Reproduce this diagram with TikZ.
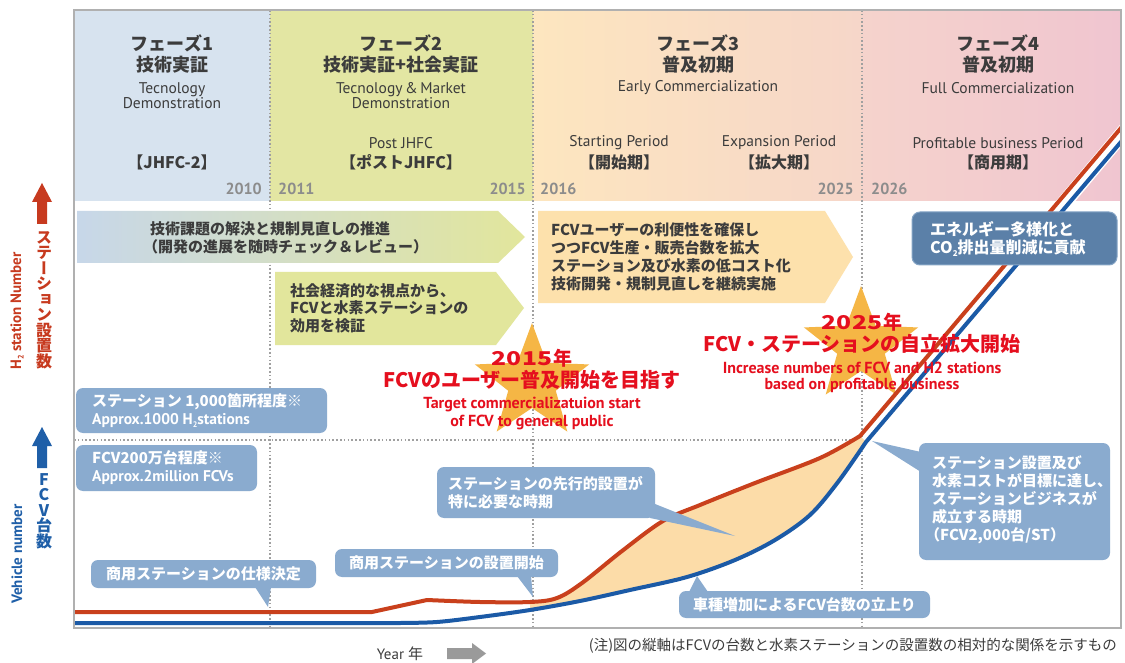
\documentclass[tikz,border=0pt]{standalone}
\usepackage{fontspec}
\setmainfont{PT Sans}
\newfontfamily\jp{Noto Sans CJK JP}
\newfontfamily\jpv{Noto Sans CJK JP}[RawFeature=+vert]
\usetikzlibrary{shapes.geometric}
\definecolor{phaseA}{HTML}{D7E3EF}
\definecolor{phaseB}{HTML}{E3E6A3}
\definecolor{phaseCa}{HTML}{FDE6BF}
\definecolor{phaseCb}{HTML}{F6D6C9}
\definecolor{phaseDa}{HTML}{F5D3CC}
\definecolor{phaseDb}{HTML}{F0C5D0}
\definecolor{arrA}{HTML}{C7D7E9}
\definecolor{arrB}{HTML}{E2E69C}
\definecolor{arrC}{HTML}{FDE1AC}
\definecolor{boxD}{HTML}{5B80A8}
\definecolor{boxDedge}{HTML}{86A5C6}
\definecolor{callout}{HTML}{8AABCF}
\definecolor{fillarea}{HTML}{FCDCA8}
\definecolor{redline}{HTML}{C9401C}
\definecolor{blueline}{HTML}{1B5AA6}
\definecolor{starcol}{HTML}{F5B645}
\definecolor{startxt}{HTML}{E50F1E}
\definecolor{hdrtxt}{HTML}{3C3C3C}
\definecolor{yeartxt}{HTML}{8C8C8C}
\definecolor{axred}{HTML}{C73A1F}
\definecolor{axblue}{HTML}{1F5FA8}
\definecolor{divgray}{HTML}{A0A0A0}
\definecolor{framegray}{HTML}{B0B0B0}
\definecolor{arrgray}{HTML}{9A9A9A}
\newcommand\fsz[2]{\fontsize{#1}{#2}\selectfont}
\newcommand\subtwo{\raisebox{-0.35ex}{\fontsize{8}{8}\selectfont 2}}
\newcommand\yrnum[1]{\scalebox{1.3}[1]{#1}\kern1pt}
\lineskiplimit=-100pt
\begin{document}
\begin{tikzpicture}[x=1pt,y=-1pt,
  hdrjp/.style={text=hdrtxt, inner sep=0, font=\jp\bfseries\fsz{18}{20}},
  hdren/.style={text=hdrtxt, inner sep=0, align=center, font=\fsz{15.5}{15}},
  hdrbr/.style={text=hdrtxt, inner sep=0, font=\jp\bfseries\fsz{16}{18}},
  yr/.style={text=yeartxt, inner sep=0, font=\bfseries\fsz{16}{16}},
  divider/.style={draw=divgray, line width=1.1pt, dash pattern=on 1.6pt off 2.2pt},
  arrtext/.style={text=hdrtxt, inner sep=0, align=left, anchor=west, font=\jp\bfseries\fsz{15}{18}},
  callbox/.style={fill=callout, rounded corners=7pt},
  calltext/.style={text=white, inner sep=0, align=left, anchor=west, font=\jp\bfseries\fsz{15}{18}},
  starjp/.style={text=startxt, inner sep=0, font=\jp\bfseries\fsz{20}{20}},
  staren/.style={text=startxt, inner sep=0, font=\bfseries\fsz{16}{16}},
  curve/.style={line width=4pt, line join=round},
  vlab/.style={inner sep=0, align=center, font=\jpv\bfseries\fsz{16}{15.5}},
  rlab/.style={inner sep=0, rotate=90, font=\bfseries\fsz{15}{15}},
]
\useasboundingbox (0,0) rectangle (1125,663);
\fill[white] (0,0) rectangle (1125,663);

% ---------- header bands
\fill[phaseA] (74,10) rectangle (270,201);
\fill[phaseB] (270,10) rectangle (533,201);
\shade[left color=phaseCa, right color=phaseCb] (533,10) rectangle (862,201);
\shade[left color=phaseDa, right color=phaseDb] (862,10) rectangle (1121,201);

% ---------- dividers
\draw[divider] (270,10) -- (270,628);
\draw[divider] (533,10) -- (533,628);
\draw[divider] (862,10) -- (862,628);
\draw[divider] (74,440) -- (862,440);

% ---------- process arrows
\shade[left color=arrA, right color=arrB] (77,211) -- (498,211) -- (525,237) -- (498,263) -- (77,263) -- cycle;
\fill[arrB] (275,272) -- (496,272) -- (524,308) -- (496,345) -- (275,345) -- cycle;
\fill[arrC] (538,211) -- (825,211) -- (853,257) -- (825,303) -- (538,303) -- cycle;
\node[arrtext] (a1t) at (150,237.5) {技術課題の解決と規制見直しの推進\\\kern-7pt（開発の進展を随時チェック＆レビュー）};
\node[arrtext, font=\jp\bfseries\fsz{15}{17.5}] (a2t) at (290,308) {社会経済的な視点から、\\FCVと水素ステーションの\\効用を検証};
\node[arrtext] (a3t) at (551,257) {FCVユーザーの利便性を確保し\\つつFCV生産・販売台数を拡大\\ステーション及び水素の低コスト化\\技術開発・規制見直しを継続実施};

% ---------- stars
\fill[starcol] (532,383) +(270:60) -- +(306:25) -- +(342:60) -- +(18:25) -- +(54:60) -- +(90:25) -- +(126:60) -- +(162:25) -- +(198:60) -- +(234:25) -- cycle;
\fill[starcol] (861,346) +(270:60) -- +(306:25) -- +(342:60) -- +(18:25) -- +(54:60) -- +(90:25) -- +(126:60) -- +(162:25) -- +(198:60) -- +(234:25) -- cycle;

% ---------- curves
\begin{scope}
\clip (74,10) rectangle (1121,628);
\fill[fillarea] plot[smooth,tension=0.55] coordinates {(530,602) (557,598) (582,583) (622,551) (663,521) (700,505) (755,483) (820,458) (860,436)} -- (866,442) -- plot[smooth,tension=0.55] coordinates {(866,442) (838,482) (810,515) (775,540) (735,560) (687,577) (630,590) (580,601) (530,610)} -- cycle;
\draw[white, line width=15pt] (880,422) -- (1143,109);
\draw[blueline,curve] (60,623) -- (400,623) -- plot[smooth,tension=0.55] coordinates {(400,623) (437,622) (480,617) (530,610) (580,601) (630,590) (687,577) (735,560) (775,540) (810,515) (838,482) (866,442)} -- (1143,116);
\draw[redline,curve] (60,612) -- (372,612) -- (427,600) -- plot[smooth,tension=0.55] coordinates {(427,600) (480,602) (530,602) (557,598) (582,583) (622,551) (663,521) (700,505) (755,483) (820,458) (860,436)} -- (1143,102);
\end{scope}

% ---------- callouts
\fill[callbox] (76,388) rectangle (327,433);
\node[calltext] (c1t) at (92,411) {ステーション 1,000箇所程度※\\{\rmfamily\fsz{15.5}{16}Approx.1000 H\subtwo stations}};
\fill[callbox] (76,445) rectangle (257,491);
\node[calltext] (c2t) at (92,468) {FCV200万台程度※\\{\rmfamily\fsz{15.5}{16}Approx.2million FCVs}};

\fill[callout] (255,587) -- (271,587) -- (268,607) -- cycle;
\fill[callbox] (91,560) rectangle (316,588);
\node[calltext, anchor=center] (c3t) at (203.5,574) {商用ステーションの仕様決定};

\fill[callout] (517,576) -- (531,576) -- (533,597) -- cycle;
\fill[callbox] (335,549) rectangle (558,577);
\node[calltext, anchor=center] (c4t) at (446.5,563) {商用ステーションの設置開始};

\fill[callout] (650,502) -- (650,518) -- (735,536) -- cycle;
\fill[callbox] (437,467) rectangle (655,518);
\node[calltext] (c5t) at (448,492.5) {ステーションの先行的設置が\\特に必要な時期};

\fill[callout] (689,592) -- (708,592) -- (697,576) -- cycle;
\fill[callbox] (679,591) rectangle (930,618);
\node[calltext, anchor=center] (c6t) at (804.5,604.5) {車種増加によるFCV台数の立上り};

\fill[callout] (921,452) -- (921,472) -- (872,441) -- cycle;
\fill[callbox] (919,443) rectangle (1110,560);
\node[calltext] (c7t) at (932,500) {ステーション設置及び\\水素コストが目標に達し、\\ステーションビジネスが\\成立する時期\\\kern-7pt（FCV2,000台/ST）};

% ---------- box 4
\filldraw[fill=boxD, draw=boxDedge, line width=1pt, rounded corners=8pt] (912,212) rectangle (1117,265);
\node[calltext, font=\jp\bfseries\fsz{16}{18}] (b4t) at (930,239) {エネルギー多様化と\\CO\subtwo 排出量削減に貢献};

% ---------- star texts
\node[starjp, font=\jp\bfseries\fsz{19}{19}] (s1a) at (532,358) {\yrnum{2015}年};
\node[starjp] (s1b) at (532,380) {FCVのユーザー普及開始を目指す};
\node[staren] (s1c) at (532,405) {Target commercializatuion start};
\node[staren] (s1d) at (532,422) {of FCV to general public};
\node[starjp, font=\jp\bfseries\fsz{19}{19}] (s2a) at (862,322) {\yrnum{2025}年};
\node[starjp] (s2b) at (862,344) {FCV・ステーションの自立拡大開始};
\node[staren] (s2c) at (862,368) {Increase numbers of FCV and H2 stations};
\node[staren] (s2d) at (862,385) {based on profitable business};

% ---------- frame
\draw[framegray, line width=1.2pt] (74,10) rectangle (1121,628);

% ---------- header texts
\node[hdrjp] (p1a) at (172,43) {フェーズ1};
\node[hdrjp] (p1b) at (172,65) {技術実証};
\node[hdren] (p1c) at (172,96) {Tecnology\\Demonstration};
\node[hdrbr] (p1d) at (172,162) {【JHFC-2】};
\node[yr, anchor=east] (y2010) at (262,189) {2010};

\node[hdrjp] (p2a) at (401,43) {フェーズ2};
\node[hdrjp] (p2b) at (401,65) {技術実証+社会実証};
\node[hdren] (p2c) at (401,96) {Tecnology\,\&\,Market\\Demonstration};
\node[hdren] (p2d) at (401,143) {Post JHFC};
\node[hdrbr] (p2e) at (401,162) {【ポストJHFC】};
\node[yr, anchor=west] (y2011) at (278,189) {2011};
\node[yr, anchor=east] (y2015) at (526,189) {2015};

\node[hdrjp] (p3a) at (698,43) {フェーズ3};
\node[hdrjp] (p3b) at (698,65) {普及初期};
\node[hdren] (p3c) at (698,88) {Early Commercialization};
\node[hdren] (p3d) at (619,143) {Starting Period};
\node[hdrbr] (p3e) at (619,162) {【開始期】};
\node[hdren] (p3f) at (779,143) {Expansion Period};
\node[hdrbr] (p3g) at (779,162) {【拡大期】};
\node[yr, anchor=west] (y2016) at (540,189) {2016};
\node[yr, anchor=east] (y2025) at (854,189) {2025};

\node[hdrjp] (p4a) at (998,43) {フェーズ4};
\node[hdrjp] (p4b) at (998,65) {普及初期};
\node[hdren] (p4c) at (998,88) {Full Commercialization};
\node[hdren] (p4d) at (998,143) {Profitable business Period};
\node[hdrbr] (p4e) at (998,162) {【商用期】};
\node[yr, anchor=west] (y2026) at (871,189) {2026};

% ---------- axis labels
\fill[axred] (42,183) -- (52,202) -- (47,202) -- (47,224) -- (37,224) -- (37,202) -- (32,202) -- cycle;
\node[vlab, text=axred] (stlab) at (44,300) {ス\\テ\\ー\\シ\\ョ\\ン\\設\\置\\数};
\node[rlab, text=axred] (h2lab) at (17,311) {H\subtwo\ station Number};
\fill[axblue] (42,427) -- (52,446) -- (47,446) -- (47,468) -- (37,468) -- (37,446) -- (32,446) -- cycle;
\node[vlab, text=axblue] (fcvlab) at (44,511) {F\\C\\V\\台\\数};
\node[rlab, text=axblue] (vehlab) at (17,554) {Vehicle number};

% ---------- bottom
\node[inner sep=0, text=hdrtxt, font=\fsz{15}{15}] (year) at (400,654) {Year {\jp 年}};
\fill[arrgray] (447,648) -- (472,648) -- (472,643) -- (486,653.5) -- (472,664) -- (472,659) -- (447,659) -- cycle;
\node[inner sep=0, anchor=east, text=hdrtxt, font=\jp\fsz{14.5}{14.5}] (note) at (1117,646) {(注)図の縦軸はFCVの台数と水素ステーションの設置数の相対的な関係を示すもの};
\end{tikzpicture}
\end{document}
